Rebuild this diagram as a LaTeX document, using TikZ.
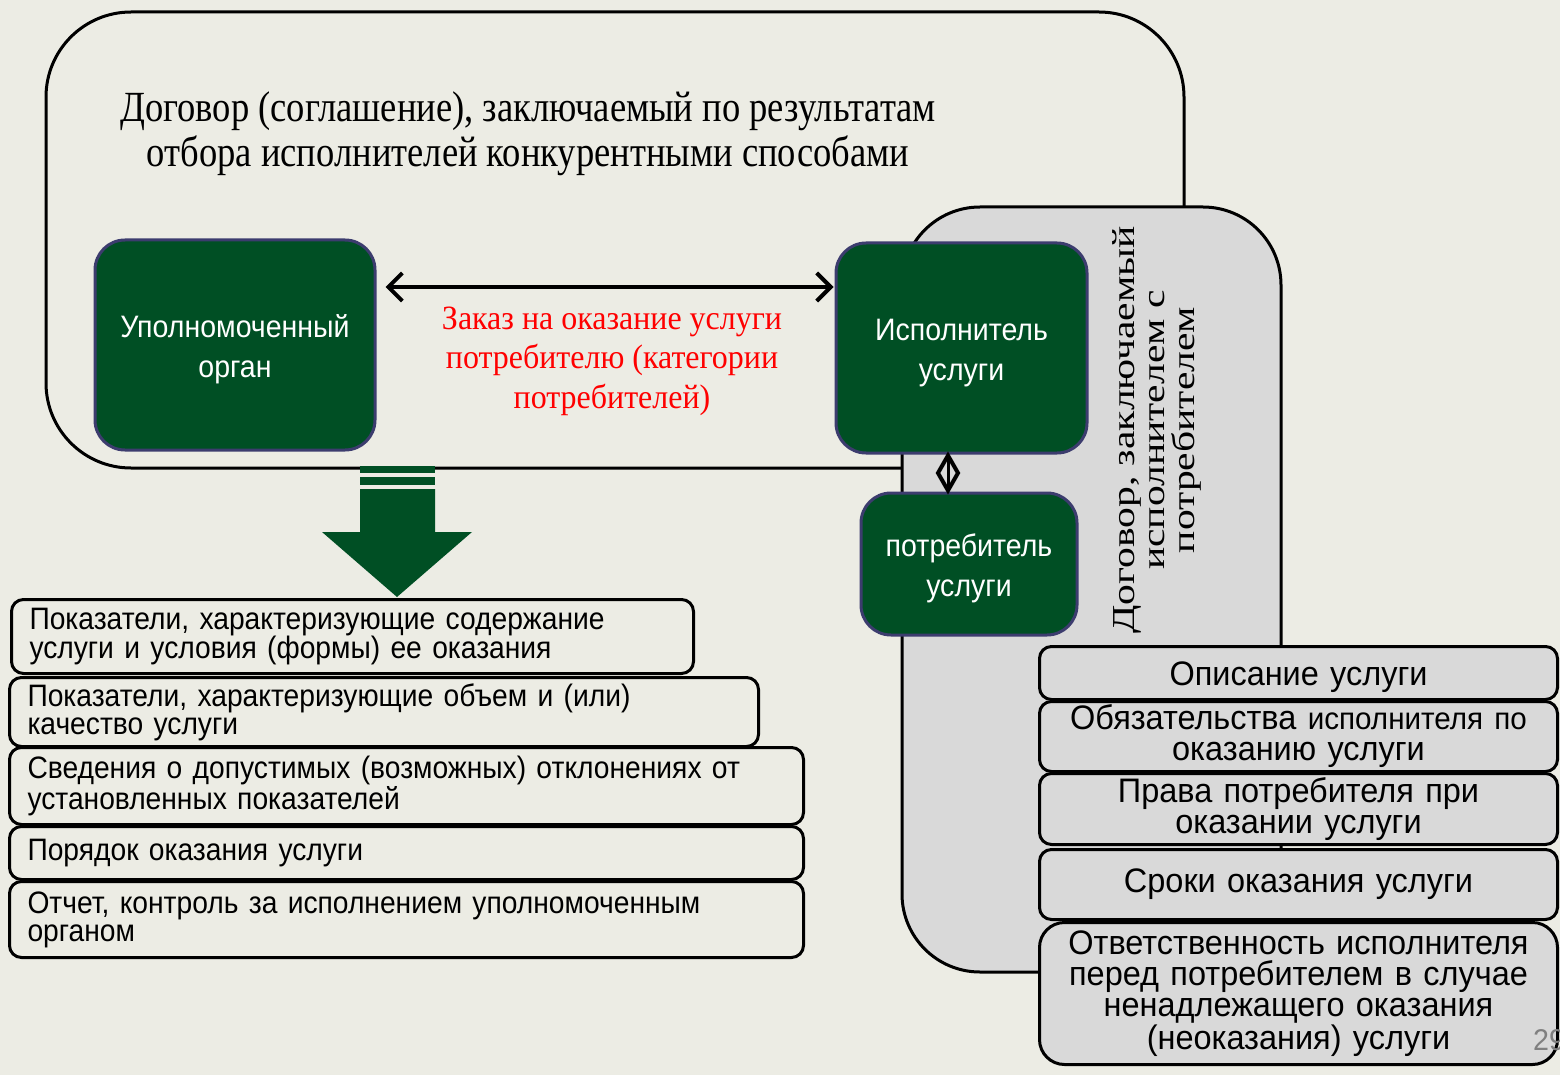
\documentclass[tikz,border=0pt]{standalone}
\usepackage{fontspec}
\usetikzlibrary{arrows.meta,calc}
\newfontfamily\lsans[FakeStretch=0.91]{Liberation Sans}
\newfontfamily\gsans[FakeStretch=0.92]{Liberation Sans}
\newfontfamily\rsans[FakeStretch=0.955]{Liberation Sans}
\newfontfamily\tserif[FakeStretch=0.85]{Liberation Serif}
\newfontfamily\redserif[FakeStretch=0.94]{Liberation Serif}
\newfontfamily\vserif[FakeStretch=1.3]{Liberation Serif}
\definecolor{bg}{RGB}{236,236,228}
\definecolor{gfill}{RGB}{0,79,36}
\definecolor{gborder}{RGB}{60,60,110}
\definecolor{greyf}{RGB}{217,217,217}
\definecolor{redtxt}{RGB}{255,0,0}
\newcommand{\gtext}[1]{\raisebox{-4pt}[\height][\depth]{\begin{tabular}{@{}c@{}}#1\end{tabular}}}
\begin{document}
\begin{tikzpicture}[x=1pt,y=-1pt,
  frame/.style={draw=black,line width=3pt},
  gbox/.style={draw=gborder,line width=3pt,fill=gfill,rounded corners=30pt,text=white,align=center,
    font=\gsans\fontsize{31}{40}\selectfont,inner sep=0pt},
  lbox/.style={draw=black,line width=3pt,fill=bg,rounded corners=12pt,anchor=north west,align=left,
    inner xsep=18pt,inner ysep=0pt,font=\lsans\fontsize{31}{28}\selectfont},
  rbox/.style={draw=black,line width=3pt,fill=greyf,rounded corners=12pt,anchor=north west,align=center,
    inner xsep=10pt,inner ysep=0pt,minimum width=518pt,text width=498pt,font=\rsans\fontsize{34}{31}\selectfont},
  dblarrow/.style={line width=4pt,{Straight Barb[length=14pt,width=28pt,line width=4pt]}-{Straight Barb[length=14pt,width=28pt,line width=4pt]}},
  diamline/.style={draw=black,line width=4pt,line join=miter}
]
\fill[bg] (0,0) rectangle (1560,1075);
\useasboundingbox (0,0) rectangle (1560,1075);

% outer contract frame
\draw[frame,rounded corners=85pt] (46,12) rectangle (1184,468);
\node[font=\tserif\fontsize{43}{45}\selectfont,align=center] (ttl) at (528,134)
  {Договор (соглашение), заключаемый по результатам\\отбора исполнителей конкурентными способами};

% grey contract frame
\draw[frame,fill=greyf,rounded corners=78pt] (902,207) rectangle (1281,972);
\node[rotate=90,align=center,font=\vserif\fontsize{32}{30}\selectfont] (vt) at (1157,430)
  {Договор, заключаемый\\исполнителем с\\потребителем};

% green nodes
\node[gbox,minimum width=280pt,minimum height=210pt] (uo) at (235,345) {\gtext{Уполномоченный\\орган}};
\node[gbox,minimum width=251pt,minimum height=210pt] (isp) at (961.5,348) {\gtext{Исполнитель\\услуги}};
\node[gbox,minimum width=216pt,minimum height=142pt] (potr) at (969,564) {\gtext{потребитель\\услуги}};

% red label
\node[text=redtxt,align=center,font=\redserif\fontsize{34}{39.5}\selectfont] (zak) at (612,361)
  {Заказ на оказание услуги\\потребителю (категории\\потребителей)};

% double arrow
\coordinate (ay) at (0,287);
\draw[dblarrow,shorten <=9pt,shorten >=1pt] (uo.east |- ay) -- (isp.west |- ay);

% diamond connector
\coordinate (dx) at (948,0);
\coordinate (da) at ($(isp.south -| dx)+(0,1)$);
\coordinate (db) at ($(potr.north -| dx)+(0,-1)$);
\draw[diamline] (da) -- ($(da)!0.5!(db)+(10,0)$) -- (db) -- ($(da)!0.5!(db)+(-10,0)$) -- cycle;
\draw[line width=3pt] (da) -- (db);

% big green arrow
\fill[gfill] (360,466) rectangle (435,473);
\fill[gfill] (360,477) rectangle (435,485);
\fill[gfill] (360,489) -- (435,489) -- (435,532) -- (472,532) -- (397,597) -- (322,532) -- (360,532) -- cycle;

% left list
\node[lbox,minimum width=682pt,minimum height=74pt,text width=646pt] (l1) at (10,598)
  {Показатели, характеризующие содержание\\услуги и условия (формы) ее оказания};
\node[lbox,minimum width=749pt,minimum height=69pt,text width=713pt] (l2) at (8,676)
  {Показатели, характеризующие объем и (или)\\качество услуги};
\node[lbox,minimum width=794pt,minimum height=77pt,text width=758pt] (l3) at (8,746)
  {Сведения о допустимых (возможных) отклонениях от\\установленных показателей};
\node[lbox,minimum width=794pt,minimum height=53pt,text width=758pt] (l4) at (8,825)
  {Порядок оказания услуги};
\node[lbox,minimum width=794pt,minimum height=76pt,text width=758pt] (l5) at (8,880)
  {Отчет, контроль за исполнением уполномоченным\\органом};

% right list
\node[rbox,minimum height=53pt] (r1) at (1038,645) {\raisebox{-4pt}[\height][\depth]{Описание услуги}};
\node[rbox,minimum height=70pt] (r2) at (1038,700)
  {Обязательства {\fontsize{31}{31}\selectfont исполнителя по}\\оказанию услуги};
\node[rbox,minimum height=71pt] (r3) at (1038,772) {Права потребителя при\\оказании услуги};
\node[rbox,minimum height=70pt] (r4) at (1038,848) {Сроки оказания услуги};
\node[rbox,minimum height=142pt,rounded corners=25pt] (r5) at (1038,921)
  {Ответственность исполнителя\\перед потребителем в случае\\ненадлежащего оказания\\(неоказания) услуги};

% page number
\begin{scope}
\clip (0,0) rectangle (1560,1075);
\node[anchor=west,text=gray,font=\rsans\fontsize{30}{30}\selectfont,inner sep=0pt] (pg) at (1533,1040) {29};
\end{scope}
\end{tikzpicture}
\end{document}
